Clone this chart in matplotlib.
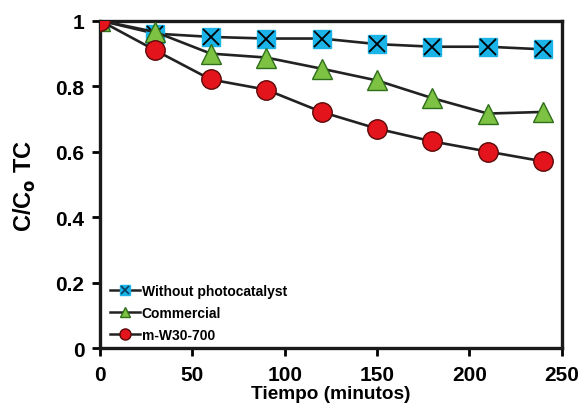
import matplotlib.pyplot as plt
from matplotlib.lines import Line2D

plt.rcParams['font.family'] = ['Liberation Sans', 'DejaVu Sans']
plt.rcParams['font.weight'] = 'bold'

# data
tiempo = [0, 30, 60, 90, 120, 150, 180, 210, 240]
without_photocat = [1.0, 0.960, 0.950, 0.945, 0.945, 0.928, 0.920, 0.920, 0.912]
commercial = [1.0, 0.965, 0.899, 0.887, 0.853, 0.817, 0.763, 0.716, 0.721]
m_w30_700 = [1.0, 0.909, 0.820, 0.789, 0.721, 0.670, 0.631, 0.600, 0.570]

labels = ['Without photocatalyst', 'Commercial', 'm-W30-700']
x_ticks = [0, 50, 100, 150, 200, 250]
y_ticks = [0, 0.2, 0.4, 0.6, 0.8, 1]
y_tick_labels = ['0', '0.2', '0.4', '0.6', '0.8', '1']

blue = '#1ab4e8'
green = '#7dc242'
red = '#e3141b'
line_col = '#222222'

fig = plt.figure(figsize=(5.84, 4.06), dpi=100)
ax = fig.add_axes([0.171, 0.140, 0.791, 0.807])

# without photocatalyst: cyan square with a black cross on it
ax.plot(tiempo, without_photocat, color=line_col, lw=1.9, marker='s',
        markersize=13, markerfacecolor=blue, markeredgecolor=blue, zorder=3)
ax.plot(tiempo, without_photocat, ls='none', marker='x', markersize=11,
        markeredgecolor='black', markeredgewidth=1.3, zorder=4)
ax.plot(tiempo, commercial, color=line_col, lw=1.9, marker='^',
        markersize=14, markerfacecolor=green, markeredgecolor='#2f6e1a',
        markeredgewidth=1.0, zorder=5)
ax.plot(tiempo, m_w30_700, color=line_col, lw=1.9, marker='o',
        markersize=14, markerfacecolor=red, markeredgecolor='#5a0a0a',
        markeredgewidth=1.0, zorder=6)

ax.set_xlim(0, 250)
ax.set_ylim(0, 1)
ax.set_xticks(x_ticks)
ax.set_yticks(y_ticks)
ax.set_yticklabels(y_tick_labels)
ax.tick_params(direction='out', length=6, width=2, labelsize=15, pad=5)
ax.tick_params(axis='x', pad=6)
for s in ax.spines.values():
    s.set_linewidth(2.4)
    s.set_color('#1a1a1a')

ax.set_xlabel('Tiempo (minutos)', fontsize=13.7, fontweight='bold', labelpad=1)
ax.set_ylabel('C/C$_\\mathbf{o}$ TC', fontsize=17, fontweight='bold', labelpad=13)

# legend: small markers, the first one a cyan square with a cross
sq = Line2D([0], [0], color=line_col, lw=1.8, marker='s', markersize=7,
            markerfacecolor=blue, markeredgecolor=blue)
cr = Line2D([0], [0], ls='none', marker='x', markersize=6,
            markeredgecolor='#0b3f60', markeredgewidth=1.2)
tri = Line2D([0], [0], color=line_col, lw=1.8, marker='^', markersize=7,
             markerfacecolor=green, markeredgecolor='#2f6e1a')
circ = Line2D([0], [0], color=line_col, lw=1.8, marker='o', markersize=8,
              markerfacecolor=red, markeredgecolor='#5a0a0a')
ax.legend(handles=[(sq, cr), tri, circ], labels=labels, loc='lower left',
          frameon=False, handlelength=2.1, handletextpad=0.15,
          labelspacing=0.55, prop={'size': 10, 'weight': 'bold'},
          bbox_to_anchor=(0.023, 0.02), borderaxespad=0, borderpad=0)

fig.savefig('out.png', dpi=100)
